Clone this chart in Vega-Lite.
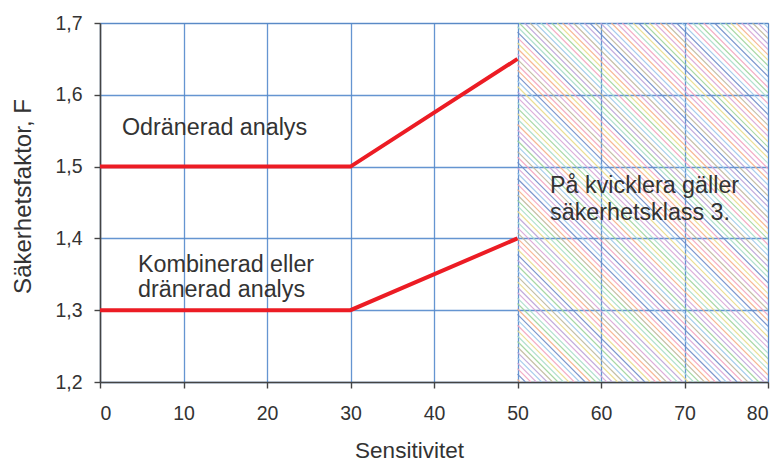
{
  "$schema": "https://vega.github.io/schema/vega-lite/v6.json",
  "width": 668,
  "height": 359,
  "autosize": "none",
  "padding": {"left": 100, "top": 23, "right": 10, "bottom": 81},
  "background": "white",
  "config": {
    "view": {"stroke": "#8a8a8a", "strokeWidth": 1},
    "font": "Liberation Sans",
    "axis": {
      "labelFont": "Liberation Sans",
      "labelFontSize": 19.5,
      "labelColor": "#333333",
      "titleFont": "Liberation Sans",
      "titleFontSize": 22.5,
      "titleFontWeight": "normal",
      "titleColor": "#333333",
      "domainColor": "#444444",
      "domainWidth": 1.6,
      "tickColor": "#444444",
      "tickWidth": 1.4,
      "tickSize": 6,
      "gridColor": "#5489cc",
      "gridWidth": 1.3,
      "gridOpacity": 0.9
    }
  },
  "datasets": {
    "hatch": [
      {"x": 50, "y": 1.2035, "x2": 50.3, "y2": 1.2, "g": 3}, {"x": 50, "y": 1.2110, "x2": 50.95, "y2": 1.2, "g": 7}, {"x": 50, "y": 1.2186, "x2": 51.6, "y2": 1.2, "g": 1},
      {"x": 50, "y": 1.2262, "x2": 52.25, "y2": 1.2, "g": 9}, {"x": 50, "y": 1.2337, "x2": 52.9, "y2": 1.2, "g": 4}, {"x": 50, "y": 1.2413, "x2": 53.55, "y2": 1.2, "g": 2},
      {"x": 50, "y": 1.2488, "x2": 54.2, "y2": 1.2, "g": 6}, {"x": 50, "y": 1.2564, "x2": 54.85, "y2": 1.2, "g": 0}, {"x": 50, "y": 1.2640, "x2": 55.5, "y2": 1.2, "g": 5},
      {"x": 50, "y": 1.2715, "x2": 56.15, "y2": 1.2, "g": 8}, {"x": 50, "y": 1.2791, "x2": 56.8, "y2": 1.2, "g": 1}, {"x": 50, "y": 1.2866, "x2": 57.45, "y2": 1.2, "g": 4},
      {"x": 50, "y": 1.2942, "x2": 58.1, "y2": 1.2, "g": 7}, {"x": 50, "y": 1.3017, "x2": 58.75, "y2": 1.2, "g": 3}, {"x": 50, "y": 1.3093, "x2": 59.4, "y2": 1.2, "g": 0},
      {"x": 50, "y": 1.3169, "x2": 60.05, "y2": 1.2, "g": 5}, {"x": 50, "y": 1.3244, "x2": 60.7, "y2": 1.2, "g": 9}, {"x": 50, "y": 1.3320, "x2": 61.35, "y2": 1.2, "g": 2},
      {"x": 50, "y": 1.3395, "x2": 62.0, "y2": 1.2, "g": 8}, {"x": 50, "y": 1.3471, "x2": 62.65, "y2": 1.2, "g": 6}, {"x": 50, "y": 1.3547, "x2": 63.3, "y2": 1.2, "g": 4},
      {"x": 50, "y": 1.3622, "x2": 63.95, "y2": 1.2, "g": 0}, {"x": 50, "y": 1.3698, "x2": 64.6, "y2": 1.2, "g": 2}, {"x": 50, "y": 1.3773, "x2": 65.25, "y2": 1.2, "g": 7},
      {"x": 50, "y": 1.3849, "x2": 65.9, "y2": 1.2, "g": 8}, {"x": 50, "y": 1.3924, "x2": 66.55, "y2": 1.2, "g": 1}, {"x": 50, "y": 1.4000, "x2": 67.2, "y2": 1.2, "g": 3},
      {"x": 50, "y": 1.4076, "x2": 67.85, "y2": 1.2, "g": 6}, {"x": 50, "y": 1.4151, "x2": 68.5, "y2": 1.2, "g": 9}, {"x": 50, "y": 1.4227, "x2": 69.15, "y2": 1.2, "g": 5},
      {"x": 50, "y": 1.4302, "x2": 69.8, "y2": 1.2, "g": 2}, {"x": 50, "y": 1.4378, "x2": 70.45, "y2": 1.2, "g": 8}, {"x": 50, "y": 1.4453, "x2": 71.1, "y2": 1.2, "g": 5},
      {"x": 50, "y": 1.4529, "x2": 71.75, "y2": 1.2, "g": 0}, {"x": 50, "y": 1.4605, "x2": 72.4, "y2": 1.2, "g": 6}, {"x": 50, "y": 1.4680, "x2": 73.05, "y2": 1.2, "g": 3},
      {"x": 50, "y": 1.4756, "x2": 73.7, "y2": 1.2, "g": 1}, {"x": 50, "y": 1.4831, "x2": 74.35, "y2": 1.2, "g": 7}, {"x": 50, "y": 1.4907, "x2": 75.0, "y2": 1.2, "g": 4},
      {"x": 50, "y": 1.4983, "x2": 75.65, "y2": 1.2, "g": 9}, {"x": 50, "y": 1.5058, "x2": 76.3, "y2": 1.2, "g": 7}, {"x": 50, "y": 1.5134, "x2": 76.95, "y2": 1.2, "g": 1},
      {"x": 50, "y": 1.5209, "x2": 77.6, "y2": 1.2, "g": 6}, {"x": 50, "y": 1.5285, "x2": 78.25, "y2": 1.2, "g": 4}, {"x": 50, "y": 1.5360, "x2": 78.9, "y2": 1.2, "g": 0},
      {"x": 50, "y": 1.5436, "x2": 79.55, "y2": 1.2, "g": 2}, {"x": 50, "y": 1.5512, "x2": 80.2, "y2": 1.2, "g": 9}, {"x": 50, "y": 1.5587, "x2": 80.85, "y2": 1.2, "g": 3},
      {"x": 50, "y": 1.5663, "x2": 81.5, "y2": 1.2, "g": 5}, {"x": 50, "y": 1.5738, "x2": 82.15, "y2": 1.2, "g": 8}, {"x": 50, "y": 1.5814, "x2": 82.8, "y2": 1.2, "g": 0},
      {"x": 50, "y": 1.5890, "x2": 83.45, "y2": 1.2, "g": 5}, {"x": 50, "y": 1.5965, "x2": 84.1, "y2": 1.2, "g": 9}, {"x": 50, "y": 1.6041, "x2": 84.75, "y2": 1.2, "g": 2},
      {"x": 50, "y": 1.6116, "x2": 85.4, "y2": 1.2, "g": 8}, {"x": 50, "y": 1.6192, "x2": 86.05, "y2": 1.2, "g": 4}, {"x": 50, "y": 1.6267, "x2": 86.7, "y2": 1.2, "g": 7},
      {"x": 50, "y": 1.6343, "x2": 87.35, "y2": 1.2, "g": 3}, {"x": 50, "y": 1.6419, "x2": 88.0, "y2": 1.2, "g": 1}, {"x": 50, "y": 1.6494, "x2": 88.65, "y2": 1.2, "g": 6},
      {"x": 50, "y": 1.6570, "x2": 89.3, "y2": 1.2, "g": 9}, {"x": 50, "y": 1.6645, "x2": 89.95, "y2": 1.2, "g": 3}, {"x": 50, "y": 1.6721, "x2": 90.6, "y2": 1.2, "g": 8},
      {"x": 50, "y": 1.6797, "x2": 91.25, "y2": 1.2, "g": 1}, {"x": 50, "y": 1.6872, "x2": 91.9, "y2": 1.2, "g": 7}, {"x": 50, "y": 1.6948, "x2": 92.55, "y2": 1.2, "g": 5},
      {"x": 50.2, "y": 1.7, "x2": 93.2, "y2": 1.2, "g": 0}, {"x": 50.85, "y": 1.7, "x2": 93.85, "y2": 1.2, "g": 2}, {"x": 51.5, "y": 1.7, "x2": 94.5, "y2": 1.2, "g": 6},
      {"x": 52.15, "y": 1.7, "x2": 95.15, "y2": 1.2, "g": 4}, {"x": 52.8, "y": 1.7, "x2": 95.8, "y2": 1.2, "g": 5}, {"x": 53.45, "y": 1.7, "x2": 96.45, "y2": 1.2, "g": 1},
      {"x": 54.1, "y": 1.7, "x2": 97.1, "y2": 1.2, "g": 0}, {"x": 54.75, "y": 1.7, "x2": 97.75, "y2": 1.2, "g": 8}, {"x": 55.4, "y": 1.7, "x2": 98.4, "y2": 1.2, "g": 3},
      {"x": 56.05, "y": 1.7, "x2": 99.05, "y2": 1.2, "g": 9}, {"x": 56.7, "y": 1.7, "x2": 99.7, "y2": 1.2, "g": 6}, {"x": 57.35, "y": 1.7, "x2": 100.35, "y2": 1.2, "g": 4},
      {"x": 58.0, "y": 1.7, "x2": 101.0, "y2": 1.2, "g": 2}, {"x": 58.65, "y": 1.7, "x2": 101.65, "y2": 1.2, "g": 7}, {"x": 59.3, "y": 1.7, "x2": 102.3, "y2": 1.2, "g": 6},
      {"x": 59.95, "y": 1.7, "x2": 102.95, "y2": 1.2, "g": 2}, {"x": 60.6, "y": 1.7, "x2": 103.6, "y2": 1.2, "g": 4}, {"x": 61.25, "y": 1.7, "x2": 104.25, "y2": 1.2, "g": 3},
      {"x": 61.9, "y": 1.7, "x2": 104.9, "y2": 1.2, "g": 9}, {"x": 62.55, "y": 1.7, "x2": 105.55, "y2": 1.2, "g": 1}, {"x": 63.2, "y": 1.7, "x2": 106.2, "y2": 1.2, "g": 5},
      {"x": 63.85, "y": 1.7, "x2": 106.85, "y2": 1.2, "g": 8}, {"x": 64.5, "y": 1.7, "x2": 107.5, "y2": 1.2, "g": 7}, {"x": 65.15, "y": 1.7, "x2": 108.15, "y2": 1.2, "g": 0},
      {"x": 65.8, "y": 1.7, "x2": 108.8, "y2": 1.2, "g": 8}, {"x": 66.45, "y": 1.7, "x2": 109.45, "y2": 1.2, "g": 9}, {"x": 67.1, "y": 1.7, "x2": 110.1, "y2": 1.2, "g": 3},
      {"x": 67.75, "y": 1.7, "x2": 110.75, "y2": 1.2, "g": 6}, {"x": 68.4, "y": 1.7, "x2": 111.4, "y2": 1.2, "g": 2}, {"x": 69.05, "y": 1.7, "x2": 112.05, "y2": 1.2, "g": 7},
      {"x": 69.7, "y": 1.7, "x2": 112.7, "y2": 1.2, "g": 4}, {"x": 70.35, "y": 1.7, "x2": 113.35, "y2": 1.2, "g": 1}, {"x": 71.0, "y": 1.7, "x2": 114.0, "y2": 1.2, "g": 5},
      {"x": 71.65, "y": 1.7, "x2": 114.65, "y2": 1.2, "g": 0}, {"x": 72.3, "y": 1.7, "x2": 115.3, "y2": 1.2, "g": 1}, {"x": 72.95, "y": 1.7, "x2": 115.95, "y2": 1.2, "g": 4},
      {"x": 73.6, "y": 1.7, "x2": 116.6, "y2": 1.2, "g": 7}, {"x": 74.25, "y": 1.7, "x2": 117.25, "y2": 1.2, "g": 5}, {"x": 74.9, "y": 1.7, "x2": 117.9, "y2": 1.2, "g": 0},
      {"x": 75.55, "y": 1.7, "x2": 118.55, "y2": 1.2, "g": 8}, {"x": 76.2, "y": 1.7, "x2": 119.2, "y2": 1.2, "g": 3}, {"x": 76.85, "y": 1.7, "x2": 119.85, "y2": 1.2, "g": 9},
      {"x": 77.5, "y": 1.7, "x2": 120.5, "y2": 1.2, "g": 2}, {"x": 78.15, "y": 1.7, "x2": 121.15, "y2": 1.2, "g": 6}, {"x": 78.8, "y": 1.7, "x2": 121.8, "y2": 1.2, "g": 2},
      {"x": 79.45, "y": 1.7, "x2": 122.45, "y2": 1.2, "g": 4}
    ],
    "curves": [
      {"s": "odr", "x": 0, "y": 1.5}, {"s": "odr", "x": 30, "y": 1.5}, {"s": "odr", "x": 50, "y": 1.65},
      {"s": "komb", "x": 0, "y": 1.3}, {"s": "komb", "x": 30, "y": 1.3}, {"s": "komb", "x": 50, "y": 1.4}
    ],
    "labels": [
      {"t": "Odränerad analys", "x": 2.63, "y": 1.544},
      {"t": "Kombinerad eller", "x": 4.55, "y": 1.353},
      {"t": "dränerad analys", "x": 4.55, "y": 1.318},
      {"t": "På kvicklera gäller", "x": 53.9, "y": 1.463},
      {"t": "säkerhetsklass 3.", "x": 53.9, "y": 1.4256}
    ]
  },
  "layer": [
    {
      "data": {"name": "hatch"},
      "mark": {"type": "rule", "clip": true, "strokeWidth": 1.2, "opacity": 0.9},
      "encoding": {
        "x": {"field": "x", "type": "quantitative",
          "scale": {"domain": [0, 80], "nice": false, "zero": false},
          "axis": {
            "values": [0, 10, 20, 30, 40, 50, 60, 70, 80],
            "labelPadding": 16,
            "title": "Sensitivitet",
            "titleX": 309,
            "titleY": 75,
            "titleAlign": "center",
            "titleBaseline": "alphabetic",
            "grid": true
          }
        },
        "x2": {"field": "x2"},
        "y": {"field": "y", "type": "quantitative",
          "scale": {"domain": [1.2, 1.7], "nice": false, "zero": false},
          "axis": {
            "values": [1.2, 1.3, 1.4, 1.5, 1.6, 1.7],
            "labelExpr": "replace(format(datum.value, '.1f'), '.', ',')",
            "labelPadding": 12,
            "title": "Säkerhetsfaktor, F",
            "titleFontSize": 24,
            "titlePadding": 19,
            "titleY": 173,
            "grid": true
          }
        },
        "y2": {"field": "y2"},
        "color": {"field": "g", "type": "nominal", "legend": null,
          "scale": {"domain": [0, 1, 2, 3, 4, 5, 6, 7, 8, 9],
            "range": ["#9fd49b", "#f3a5bf", "#bda4d8", "#f6b089", "#9fc8ea", "#a8ddc9", "#bfb89c", "#6f8cc8", "#e9dc8c", "#d9a6d6"]}}
      }
    },
    {
      "data": {"name": "curves"},
      "mark": {"type": "line", "color": "#ec1c24", "strokeWidth": 4, "strokeCap": "butt", "strokeJoin": "miter"},
      "encoding": {
        "x": {"field": "x", "type": "quantitative"},
        "y": {"field": "y", "type": "quantitative"},
        "detail": {"field": "s"}
      }
    },
    {
      "data": {"name": "labels"},
      "mark": {"type": "text", "align": "left", "baseline": "alphabetic", "fontSize": 23.3, "font": "Liberation Sans", "color": "#333333"},
      "encoding": {
        "x": {"field": "x", "type": "quantitative"},
        "y": {"field": "y", "type": "quantitative"},
        "text": {"field": "t"}
      }
    }
  ]
}
